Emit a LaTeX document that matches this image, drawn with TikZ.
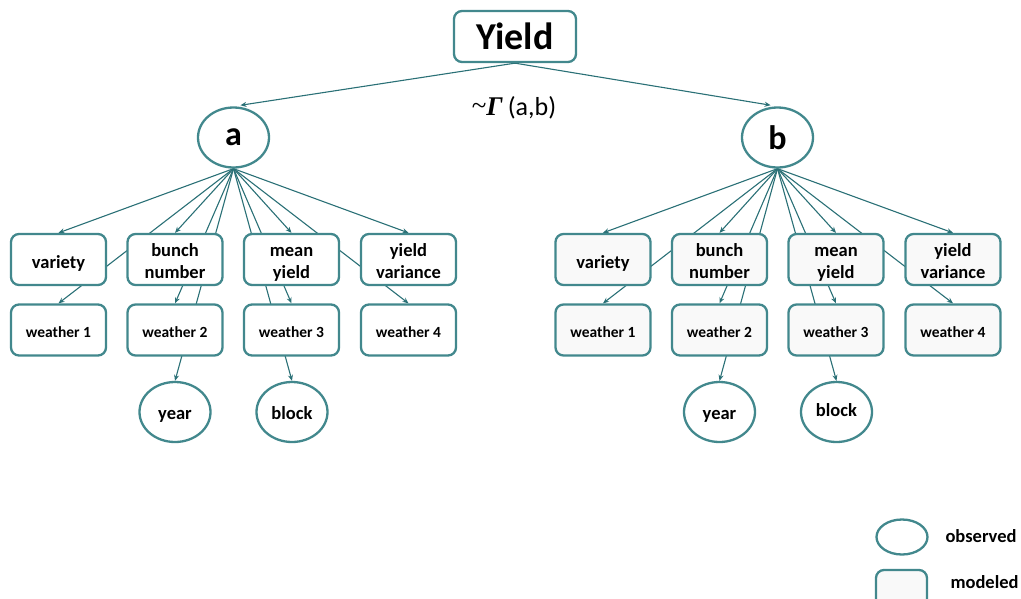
\documentclass[tikz,border=0pt]{standalone}
\usepackage{fontspec}
\setmainfont{Carlito}
\newfontfamily\gfont{Liberation Serif}
\usetikzlibrary{shapes.geometric,arrows.meta}
\definecolor{tealb}{RGB}{66,136,141}
\definecolor{tealline}{RGB}{42,112,118}
\definecolor{modfill}{RGB}{249,249,249}
\pgfdeclarelayer{bg}
\pgfsetlayers{bg,main}
\newcommand{\bt}[2][3.5pt]{\raisebox{-#1}[\height][\depth]{\begin{tabular}{@{}c@{}}#2\end{tabular}}}
\tikzset{
  box/.style={draw=tealb, line width=2.3pt, rounded corners=8pt, fill=white,
    minimum width=95pt, minimum height=51pt, inner sep=0pt, align=center,
    font=\fontsize{18.5}{22}\selectfont\bfseries},
  wbox/.style={box, font=\fontsize{15.5}{18}\selectfont\bfseries},
  obs/.style={ellipse, draw=tealb, line width=2.3pt, fill=white,
    minimum width=71pt, minimum height=60pt, inner sep=0pt,
    font=\fontsize{18.5}{22}\selectfont\bfseries},
  par/.style={obs, font=\fontsize{34}{40}\selectfont\bfseries},
  conn/.style={draw=tealline, line width=1.1pt, -{Stealth[length=6pt,width=5pt]}},
}
\begin{document}
\begin{tikzpicture}[x=1pt,y=-1pt]
\useasboundingbox (0,0) rectangle (1021,598);
% top
\node[box, minimum width=122pt, minimum height=51pt, font=\fontsize{38}{42}\selectfont\bfseries] (Y) at (515,36.5) {Yield};
\node[par] (a) at (233.5,137.5) {a};
\node[par] (b) at (777.5,137.5) {b};
\node (g) at (514,108) {{\gfont\fontsize{27}{30}\selectfont\raisebox{1pt}{\char`~}\textbf{\textit{Γ}}}\hspace{5pt}{\fontsize{26}{30}\selectfont(a,b)}};
% left tree
\node[box] (v) at (58.5,259.5) {\bt[4.5pt]{variety}};
\node[box] (bn) at (175,259.5) {\bt{bunch\\number}};
\node[box] (my) at (291.5,259.5) {\bt{mean\\yield}};
\node[box] (yv) at (408.5,259.5) {\bt{yield\\variance}};
\node[wbox] (w1) at (58.5,330) {\bt{weather 1}};
\node[wbox] (w2) at (175,330) {\bt{weather 2}};
\node[wbox] (w3) at (291.5,330) {\bt{weather 3}};
\node[wbox] (w4) at (408.5,330) {\bt{weather 4}};
\node[obs] (yr) at (175,412) {\bt[3pt]{year}};
\node[obs] (bl) at (292,412) {\bt[3pt]{block}};
% right tree
\node[box, fill=modfill] (rv) at (603,259.5) {\bt[4.5pt]{variety}};
\node[box, fill=modfill] (rbn) at (719.5,259.5) {\bt{bunch\\number}};
\node[box, fill=modfill] (rmy) at (836,259.5) {\bt{mean\\yield}};
\node[box, fill=modfill] (ryv) at (953,259.5) {\bt{yield\\variance}};
\node[wbox, fill=modfill] (rw1) at (603,330) {\bt{weather 1}};
\node[wbox, fill=modfill] (rw2) at (719.5,330) {\bt{weather 2}};
\node[wbox, fill=modfill] (rw3) at (836,330) {\bt{weather 3}};
\node[wbox, fill=modfill] (rw4) at (953,330) {\bt{weather 4}};
\node[obs] (ryr) at (719.5,412) {\bt[3pt]{year}};
\node[obs] (rbl) at (836.5,412) {\bt[0pt]{block}};
% legend
\node[obs, minimum width=51pt, minimum height=35pt] (lo) at (902,537) {};
\node[font=\fontsize{18.5}{22}\selectfont\bfseries, anchor=west] (lot) at (942,536) {observed};
\node[box, fill=modfill, minimum width=51pt, minimum height=38pt] (lm) at (901.5,589) {};
\node[font=\fontsize{18.5}{22}\selectfont\bfseries, anchor=west] (lmt) at (947,582) {modeled};
% connectors
\begin{pgfonlayer}{bg}
\draw[conn, shorten >=7pt] (Y.south) -- (a.north);
\draw[conn, shorten >=7pt] (Y.south) -- (b.north);
\foreach \t in {v,bn,my,yv,w1,w2,w3,w4,yr,bl}
  \draw[conn] (a.south) -- (\t.north);
\foreach \t in {rv,rbn,rmy,ryv,rw1,rw2,rw3,rw4,ryr,rbl}
  \draw[conn] (b.south) -- (\t.north);
\end{pgfonlayer}
\end{tikzpicture}
\end{document}
